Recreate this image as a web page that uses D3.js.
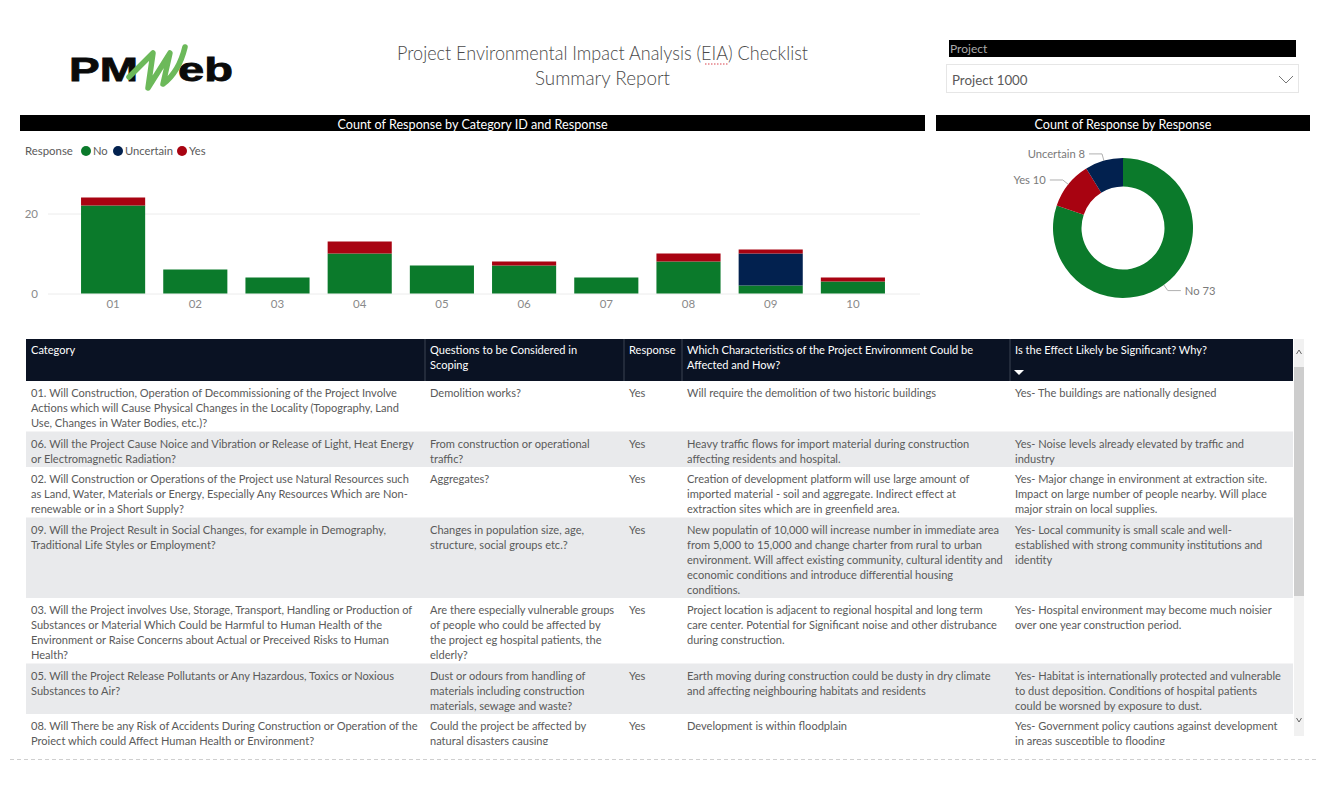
<!DOCTYPE html>
<html>
<head>
<meta charset="utf-8">
<script src="https://cdn.jsdelivr.net/npm/d3@7"></script>
<style>
  body { margin: 0; background: #fff; }
  svg { display: block; }
  text { font-family: Lato, "Open Sans", sans-serif; }
</style>
</head>
<body>
<svg id="chart" width="1330" height="786"></svg>
<script>
// chart data
const categoryIds = ["01", "02", "03", "04", "05", "06", "07", "08", "09", "10"];
const noCounts = [22, 6, 4, 10, 7, 7, 4, 8, 2, 3];
const uncertainCounts = [0, 0, 0, 0, 0, 0, 0, 0, 8, 0];
const yesCounts = [2, 0, 0, 3, 0, 1, 0, 2, 1, 1];
const responses = ["No", "Uncertain", "Yes"];
const donutOrder = ["No", "Yes", "Uncertain"];
const yTicks = [0, 20];

// table columns, line breaks as in the report
const tableHeaders = ["Category", "Questions to be Considered in\nScoping", "Response",
  "Which Characteristics of the Project Environment Could be\nAffected and How?",
  "Is the Effect Likely be Significant? Why?"];
const categoryText = [
  "01. Will Construction, Operation of Decommissioning of the Project Involve\nActions which will Cause Physical Changes in the Locality (Topography, Land\nUse, Changes in Water Bodies, etc.)?",
  "06. Will the Project Cause Noice and Vibration or Release of Light, Heat Energy\nor Electromagnetic Radiation?",
  "02. Will Construction or Operations of the Project use Natural Resources such\nas Land, Water, Materials or Energy, Especially Any Resources Which are Non-\nrenewable or in a Short Supply?",
  "09. Will the Project Result in Social Changes, for example in Demography,\nTraditional Life Styles or Employment?",
  "03. Will the Project involves Use, Storage, Transport, Handling or Production of\nSubstances or Material Which Could be Harmful to Human Health of the\nEnvironment or Raise Concerns about Actual or Preceived Risks to Human\nHealth?",
  "05. Will the Project Release Pollutants or Any Hazardous, Toxics or Noxious\nSubstances to Air?",
  "08. Will There be any Risk of Accidents During Construction or Operation of the\nProject which could Affect Human Health or Environment?"
];
const questionText = [
  "Demolition works?",
  "From construction or operational\ntraffic?",
  "Aggregates?",
  "Changes in population size, age,\nstructure, social groups etc.?",
  "Are there especially vulnerable groups\nof people who could be affected by\nthe project eg hospital patients, the\nelderly?",
  "Dust or odours from handling of\nmaterials including construction\nmaterials, sewage and waste?",
  "Could the project be affected by\nnatural disasters causing"
];
const responseText = ["Yes", "Yes", "Yes", "Yes", "Yes", "Yes", "Yes"];
const characteristicText = [
  "Will require the demolition of two historic buildings",
  "Heavy traffic flows for import material during construction\naffecting residents and hospital.",
  "Creation of development platform will use large amount of\nimported material - soil and aggregate. Indirect effect at\nextraction sites which are in greenfield area.",
  "New populatin of 10,000 will increase number in immediate area\nfrom 5,000 to 15,000 and change charter from rural to urban\nenvironment. Will affect existing community, cultural identity and\neconomic conditions and introduce differential housing\nconditions.",
  "Project location is adjacent to regional hospital and long term\ncare center. Potential for Significant noise and other distrubance\nduring construction.",
  "Earth moving during construction could be dusty in dry climate\nand affecting neighbouring habitats and residents",
  "Development is within floodplain"
];
const effectText = [
  "Yes- The buildings are nationally designed",
  "Yes- Noise levels already elevated by traffic and\nindustry",
  "Yes- Major change in environment at extraction site.\nImpact on large number of people nearby. Will place\nmajor strain on local supplies.",
  "Yes- Local community is small scale and well-\nestablished with strong community institutions and\nidentity",
  "Yes- Hospital environment may become much noisier\nover one year construction period.",
  "Yes- Habitat is internationally protected and vulnerable\nto dust deposition. Conditions of hospital patients\ncould be worsned by exposure to dust.",
  "Yes- Government policy cautions against development\nin areas susceptible to flooding"
];

const color = d3.scaleOrdinal()
  .domain(responses)
  .range(["#0b7a2b", "#02214f", "#a80311"]);
const grey = "#5a5a5a";

const svg = d3.select("#chart");

// ---- header ----
const logo = svg.append("g");
logo.append("text").attr("x", 69).attr("y", 81).text("PM")
  .attr("textLength", 69).attr("lengthAdjust", "spacingAndGlyphs")
  .style("font-family", "'Liberation Sans'").style("font-weight", 700).style("font-size", "34px")
  .attr("fill", "#0a0a0a").attr("stroke", "#0a0a0a").attr("stroke-width", 0.8);
logo.append("text").attr("x", 178).attr("y", 81).text("eb")
  .attr("textLength", 55).attr("lengthAdjust", "spacingAndGlyphs")
  .style("font-family", "'Liberation Sans'").style("font-weight", 700).style("font-size", "34px")
  .attr("fill", "#0a0a0a").attr("stroke", "#0a0a0a").attr("stroke-width", 0.8);
logo.append("path")
  .attr("d", "M129 77 L153 53 L148 88 L170 53 L163 84 Q179 72 185 47")
  .attr("fill", "none").attr("stroke", "#6cb95a").attr("stroke-width", 5.5)
  .attr("stroke-linejoin", "round").attr("stroke-linecap", "round");

const titleG = svg.append("g").attr("text-anchor", "middle").attr("fill", "#4a4a4a")
  .style("font-size", "20px").style("font-weight", 300);
titleG.append("text").attr("x", 602.5).attr("y", 60).text("Project Environmental Impact Analysis (EIA) Checklist")
  .attr("textLength", 411).attr("lengthAdjust", "spacingAndGlyphs");
titleG.append("text").attr("x", 602.5).attr("y", 85).text("Summary Report")
  .attr("textLength", 135).attr("lengthAdjust", "spacingAndGlyphs");
svg.append("line").attr("x1", 705).attr("x2", 728).attr("y1", 64).attr("y2", 64)
  .attr("stroke", "#d9434e").attr("stroke-dasharray", "1.5 1.5");

// slicer
svg.append("rect").attr("x", 949).attr("y", 40).attr("width", 347).attr("height", 17).attr("fill", "#000");
svg.append("text").attr("x", 950).attr("y", 53).text("Project").attr("fill", "#aaa").style("font-size", "12px");
svg.append("rect").attr("x", 946.5).attr("y", 64.5).attr("width", 352).attr("height", 28)
  .attr("fill", "#fff").attr("stroke", "#e6e6e6");
svg.append("text").attr("x", 952).attr("y", 85).text("Project 1000").attr("fill", grey).style("font-size", "13.3px");
svg.append("path").attr("d", "M1279 76 L1286 83 L1293 76").attr("fill", "none").attr("stroke", "#777");

// title bars
function titleBar(x, width, label) {
  svg.append("rect").attr("x", x).attr("y", 115).attr("width", width).attr("height", 16).attr("fill", "#000");
  svg.append("text").attr("x", x + width / 2).attr("y", 128.5).attr("text-anchor", "middle")
    .attr("fill", "#fff").style("font-size", "12.6px").text(label);
}
titleBar(20, 905, "Count of Response by Category ID and Response");
titleBar(936, 374, "Count of Response by Response");

// ---- legend ----
svg.append("text").attr("x", 25).attr("y", 155).attr("fill", grey).style("font-size", "11.4px").text("Response");
const legendX = d3.scaleOrdinal().domain(responses).range([86, 118, 182]);
responses.forEach(r => {
  svg.append("circle").attr("cx", legendX(r)).attr("cy", 151).attr("r", 5).attr("fill", color(r));
  svg.append("text").attr("x", legendX(r) + 7).attr("y", 155).attr("fill", grey).style("font-size", "11.2px").text(r);
});

// ---- stacked bars ----
const x = d3.scaleBand().domain(categoryIds).range([72, 894]).paddingInner(0.22).paddingOuter(0.11);
const y = d3.scaleLinear().domain([0, 25]).range([293.5, 193.5]);

const rows = categoryIds.map((id, i) => ({ id, No: noCounts[i], Uncertain: uncertainCounts[i], Yes: yesCounts[i] }));
const series = d3.stack().keys(responses)(rows);

const yAxis = svg.append("g").attr("transform", "translate(48,0)")
  .call(d3.axisLeft(y).tickValues(yTicks).tickSize(-872).tickPadding(10));
yAxis.select(".domain").remove();
yAxis.selectAll("line").attr("stroke", "#ececec");
yAxis.selectAll("text").attr("fill", "#8a8a8a").style("font-size", "11.5px");

const xAxis = svg.append("g").attr("transform", "translate(0,293.5)")
  .call(d3.axisBottom(x).tickSize(0).tickPadding(6));
xAxis.select(".domain").remove();
xAxis.selectAll("text").attr("fill", "#8a8a8a").style("font-size", "11.5px");

svg.append("g").selectAll("g").data(series).join("g")
  .attr("fill", d => color(d.key))
  .selectAll("rect").data(d => d).join("rect")
  .attr("x", d => x(d.data.id))
  .attr("width", x.bandwidth())
  .attr("y", d => y(d[1]))
  .attr("height", d => y(d[0]) - y(d[1]));

// ---- donut ----
const donutData = donutOrder.map(r => ({
  key: r,
  value: d3.sum(r === "No" ? noCounts : r === "Yes" ? yesCounts : uncertainCounts)
}));
const pie = d3.pie().sort(null).value(d => d.value);
const arc = d3.arc().innerRadius(41.5).outerRadius(70);
const donut = svg.append("g").attr("transform", "translate(1123,228)");
const slices = pie(donutData);
donut.selectAll("path").data(slices).join("path").attr("d", arc).attr("fill", d => color(d.data.key));

const ringAt = r => d3.arc().innerRadius(r).outerRadius(r);
slices.forEach(s => {
  const a = ringAt(70).centroid(s), b = ringAt(77).centroid(s);
  const dir = b[0] < 0 ? -1 : 1;
  const c = [b[0] + dir * 13, b[1]];
  donut.append("path").attr("d", d3.line()([a, b, c])).attr("fill", "none").attr("stroke", "#b0b0b0");
  donut.append("text").attr("x", c[0] + dir * 4).attr("y", c[1] + 4)
    .attr("text-anchor", dir < 0 ? "end" : "start")
    .attr("fill", "#7a7a7a").style("font-size", "11.2px")
    .text(s.data.key + " " + s.data.value);
});

// ---- table ----
const colX = [26, 425, 624, 682, 1010, 1293];
const lineH = 15;
const tableTop = 339, headTop = 381, tableClip = 745;
const squeeze = 0.955; // report font runs narrower than Lato
const columns = [categoryText, questionText, responseText, characteristicText, effectText];

svg.append("clipPath").attr("id", "tableClip").append("rect")
  .attr("x", colX[0]).attr("y", tableTop).attr("width", colX[5] - colX[0]).attr("height", tableClip - tableTop);
const table = svg.append("g").attr("clip-path", "url(#tableClip)");

table.append("rect").attr("x", colX[0]).attr("y", tableTop)
  .attr("width", colX[5] - colX[0]).attr("height", headTop - tableTop).attr("fill", "#0a1223");

function cellText(parent, str, cx, baseline, fill) {
  str.split("\n").forEach((line, i) => {
    parent.append("text")
      .attr("transform", `translate(${cx},${baseline + i * lineH}) scale(${squeeze},1)`)
      .attr("fill", fill).style("font-size", "11.6px").text(line);
  });
}
tableHeaders.forEach((h, c) => cellText(table, h, colX[c] + 5, tableTop + 15, "#fff"));
colX.slice(1, 5).forEach(cx => {
  table.append("line").attr("x1", cx).attr("x2", cx).attr("y1", tableTop).attr("y2", headTop).attr("stroke", "#3a4252");
});
table.append("path").attr("d", "M1014 370 L1024 370 L1019 375 Z").attr("fill", "#fff");

let rowTop = headTop;
categoryText.forEach((_, r) => {
  const nLines = d3.max(columns, col => col[r].split("\n").length);
  const h = nLines * lineH + 5.5;
  if (r % 2 === 1) {
    table.append("rect").attr("x", colX[0]).attr("y", rowTop).attr("width", colX[5] - colX[0]).attr("height", h).attr("fill", "#e9eaec");
  }
  columns.forEach((col, c) => cellText(table, col[r], colX[c] + 5, rowTop + 16, grey));
  rowTop += h;
});

// scrollbar
svg.append("rect").attr("x", 1294).attr("y", 339).attr("width", 10).attr("height", 397).attr("fill", "#f1f1f1");
svg.append("rect").attr("x", 1294).attr("y", 367).attr("width", 10).attr("height", 229).attr("fill", "#cdcdcd");
svg.append("path").attr("d", "M1296.5 354 L1299 350 L1301.5 354").attr("fill", "none").attr("stroke", "#666");
svg.append("path").attr("d", "M1296.5 718 L1299 722 L1301.5 718").attr("fill", "none").attr("stroke", "#666");

// bottom dashed rule
svg.append("line").attr("x1", 10).attr("x2", 1316).attr("y1", 759.5).attr("y2", 759.5)
  .attr("stroke", "#cfcfcf").attr("stroke-dasharray", "4 3");
</script>
</body>
</html>
